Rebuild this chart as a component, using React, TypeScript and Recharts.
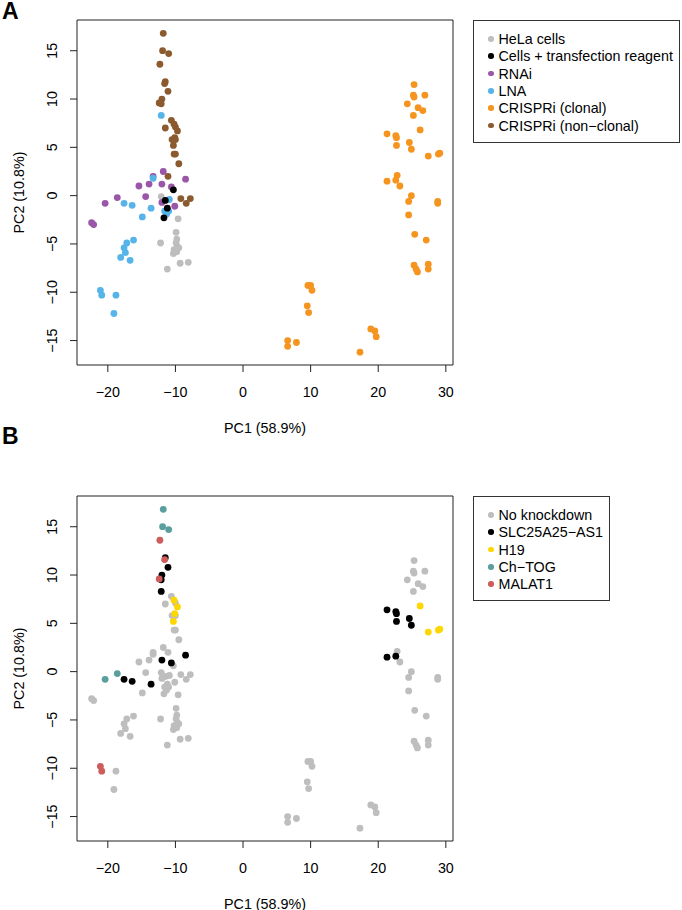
import React from 'react';
import { ScatterChart, Scatter, XAxis, YAxis, ReferenceArea } from 'recharts';

// PCA coordinates [PC1, PC2], grouped by treatment (panel A)
const helaCells = [
  [-12.1, -0.1], [-9.6, -2.4], [-9.9, -3.8], [-12.2, -4.9], [-9.8, -4.5], [-9.9, -4.9], [-9.7, -5.3],
  [-9.5, -5.4], [-10.2, -5.6], [-9.8, -5.8], [-10.3, -6.0], [-9.3, -7.0], [-8.1, -6.9], [-11.2, -7.6],
];
const transfection = [[-10.3, 0.6], [-11.5, -0.5], [-11.2, -1.3], [-11.7, -2.3]];
const rnai = [
  [-11.8, 2.5], [-13.3, 2.0], [-8.5, 1.7], [-12.0, 1.2], [-13.9, 1.2], [-15.4, 1.0], [-10.6, 0.9],
  [-14.4, -0.1], [-18.6, -0.2], [-20.4, -0.8], [-12.0, -0.7], [-10.1, -1.1], [-22.4, -2.8], [-22.1, -3.0],
];
const lna = [
  [-12.1, 8.3], [-13.3, 1.8], [-17.6, -0.8], [-16.4, -1.0], [-13.6, -1.3], [-14.9, -2.2], [-10.9, -0.4],
  [-11.6, -1.6], [-11.0, -1.6], [-11.3, -1.9], [-16.2, -4.6], [-17.2, -4.9], [-17.6, -5.4], [-17.4, -5.9],
  [-18.1, -6.4], [-16.7, -6.7], [-21.1, -9.8], [-20.9, -10.3], [-18.8, -10.3], [-19.1, -12.2],
];
const crispriClonal = [
  [25.3, 11.5], [25.2, 10.4], [25.3, 10.2], [26.9, 10.4], [24.3, 9.5], [25.9, 9.1], [26.6, 8.8], [25.2, 8.3],
  [26.2, 6.8], [21.3, 6.4], [22.6, 6.2], [22.7, 6.0], [24.6, 5.5], [22.7, 5.2], [24.9, 4.8], [27.4, 4.1],
  [28.9, 4.3], [29.1, 4.4], [22.8, 2.1], [22.6, 1.6], [21.3, 1.5], [23.2, 1.0], [24.9, 0.0], [24.5, -0.6],
  [28.8, -0.6], [28.8, -0.8], [24.5, -2.0], [25.4, -4.0], [27.1, -4.6], [25.3, -7.2], [25.6, -7.6],
  [25.8, -7.9], [27.4, -7.1], [27.4, -7.6], [9.6, -9.3], [10.0, -9.3], [10.2, -9.8], [9.5, -11.4],
  [9.7, -12.1], [6.6, -15.0], [6.6, -15.6], [7.9, -15.2], [18.9, -13.8], [19.5, -14.0], [19.7, -14.6],
  [17.3, -16.2],
];
const crispriNonClonal = [
  [-11.8, 16.8], [-11.9, 15.0], [-11.0, 14.7], [-12.3, 13.6], [-11.5, 11.8], [-11.6, 11.6], [-11.1, 10.8],
  [-12.0, 10.0], [-12.4, 9.6], [-12.1, 9.5], [-10.6, 7.8], [-11.5, 7.0], [-10.2, 7.4], [-10.0, 7.1],
  [-9.7, 6.7], [-10.5, 5.8], [-10.1, 6.0], [-10.0, 5.8], [-10.3, 5.2], [-10.2, 4.3], [-10.0, 4.3],
  [-9.5, 3.3], [-11.1, 2.0], [-9.2, -0.3], [-7.8, -0.3], [-8.4, -0.8],
];

// same samples, grouped by knocked-down target (panel B)
const noKnockdown = [
  [-12.1, -0.1], [-9.6, -2.4], [-9.9, -3.8], [-12.2, -4.9], [-9.8, -4.5], [-9.9, -4.9], [-9.7, -5.3],
  [-9.5, -5.4], [-10.2, -5.6], [-9.8, -5.8], [-10.3, -6.0], [-9.3, -7.0], [-8.1, -6.9], [-11.2, -7.6],
  [-10.3, 0.6], [-11.5, -0.5], [-11.2, -1.3], [-11.7, -2.3],
  [-10.6, 7.8], [-11.5, 7.0], [-10.0, 7.1], [-10.5, 5.8], [-10.0, 5.8], [-10.2, 4.3], [-10.0, 4.3],
  [-9.5, 3.3], [-11.1, 2.0], [-9.2, -0.3], [-7.8, -0.3], [-8.4, -0.8],
  [-11.8, 2.5], [-13.3, 2.0], [-13.9, 1.2], [-15.4, 1.0], [-14.4, -0.1], [-12.0, -0.7], [-10.1, -1.1],
  [-22.4, -2.8], [-22.1, -3.0],
  [-13.3, 1.8], [-14.9, -2.2], [-10.9, -0.4], [-11.6, -1.6], [-11.0, -1.6], [-11.3, -1.9], [-16.2, -4.6],
  [-17.2, -4.9], [-17.6, -5.4], [-17.4, -5.9], [-18.1, -6.4], [-16.7, -6.7], [-18.8, -10.3], [-19.1, -12.2],
  [25.3, 11.5], [25.2, 10.4], [25.3, 10.2], [26.9, 10.4], [24.3, 9.5], [25.9, 9.1], [26.6, 8.8], [25.2, 8.3],
  [22.8, 2.1], [23.2, 1.0], [24.9, 0.0], [24.5, -0.6], [28.8, -0.6], [28.8, -0.8], [24.5, -2.0], [25.4, -4.0],
  [27.1, -4.6], [25.3, -7.2], [25.6, -7.6], [25.8, -7.9], [27.4, -7.1], [27.4, -7.6], [9.6, -9.3],
  [10.0, -9.3], [10.2, -9.8], [9.5, -11.4], [9.7, -12.1], [6.6, -15.0], [6.6, -15.6], [7.9, -15.2],
  [18.9, -13.8], [19.5, -14.0], [19.7, -14.6], [17.3, -16.2],
];
const slc25a25 = [
  [-11.5, 11.8], [-11.1, 10.8], [-12.0, 10.0], [-12.1, 9.5], [-12.1, 8.3], [-8.5, 1.7], [-12.0, 1.2],
  [-10.6, 0.9], [-17.6, -0.8], [-16.4, -1.0], [-13.6, -1.3], [21.3, 6.4], [22.6, 6.2], [22.7, 6.0],
  [24.6, 5.5], [22.7, 5.2], [24.9, 4.8], [22.6, 1.6], [21.3, 1.5],
];
const h19 = [[-10.2, 7.4], [-9.7, 6.7], [-10.1, 6.0], [-10.3, 5.2], [26.2, 6.8], [27.4, 4.1], [28.9, 4.3], [29.1, 4.4]];
const chTog = [[-11.8, 16.8], [-11.9, 15.0], [-11.0, 14.7], [-18.6, -0.2], [-20.4, -0.8]];
const malat1 = [[-12.3, 13.6], [-11.6, 11.6], [-12.4, 9.6], [-21.1, -9.8], [-20.9, -10.3]];

const xTicks = [-20, -10, 0, 10, 20, 30];
const yTicks = [-15, -10, -5, 0, 5, 10, 15];
const xDomain = [-24.56, 31.06];
const yDomain = [-17.53, 18.18];

const FONT = '"Liberation Sans", Arial, Helvetica, sans-serif';
const FS = 14.3;

const seriesA = [
  { name: 'HeLa cells', data: helaCells, color: '#bebebe' },
  { name: 'Cells + transfection reagent', data: transfection, color: '#000000' },
  { name: 'RNAi', data: rnai, color: '#9a56a8' },
  { name: 'LNA', data: lna, color: '#56b4e9' },
  { name: 'CRISPRi (clonal)', data: crispriClonal, color: '#f5951f' },
  { name: 'CRISPRi (non\u2212clonal)', data: crispriNonClonal, color: '#8b5a2f' },
];
const drawOrderA = [0, 2, 3, 4, 5, 1];

const seriesB = [
  { name: 'No knockdown', data: noKnockdown, color: '#bebebe' },
  { name: 'SLC25A25\u2212AS1', data: slc25a25, color: '#000000' },
  { name: 'H19', data: h19, color: '#ffd700' },
  { name: 'Ch\u2212TOG', data: chTog, color: '#5a9e9e' },
  { name: 'MALAT1', data: malat1, color: '#cd5c5c' },
];
const drawOrderB = [0, 1, 2, 3, 4];

const fmt = (v: number) => (v < 0 ? '\u2212' + Math.abs(v) : String(v));

const XTick = (props: any) => {
  const { x, y, payload } = props;
  return (
    <text x={x} y={y + 22.5} textAnchor="middle" fontSize={FS} fontFamily={FONT} fill="#000">
      {fmt(payload.value)}
    </text>
  );
};

const YTick = (props: any) => {
  const { x, y, payload } = props;
  const tx = x - 10.5;
  return (
    <text x={tx} y={y} transform={`rotate(-90 ${tx} ${y})`} textAnchor="middle" fontSize={FS} fontFamily={FONT} fill="#000">
      {fmt(payload.value)}
    </text>
  );
};

const makeDot = (color: string) => (p: any) => <circle cx={p.cx} cy={p.cy} r={3.4} fill={color} />;

const Legend = ({ items, top, width }: { items: { name: string; color: string }[]; top: number; width: number }) => (
  <div
    style={{
      position: 'absolute',
      left: 473,
      top,
      width,
      height: 19 + (items.length - 1) * 17.3 + 17,
      border: '1px solid #333',
      boxSizing: 'border-box',
      fontFamily: FONT,
      fontSize: FS,
    }}
  >
    {items.map((it, i) => (
      <div key={it.name} style={{ position: 'absolute', left: 0, top: 18 + i * 17.3 - 9, height: 18, lineHeight: '18px', whiteSpace: 'nowrap' }}>
        <span
          style={{
            position: 'absolute',
            left: 14,
            top: 6.2,
            width: 5.6,
            height: 5.6,
            borderRadius: '50%',
            background: it.color,
          }}
        />
        <span style={{ position: 'absolute', left: 24.5, top: 0 }}>{it.name}</span>
      </div>
    ))}
  </div>
);

const Panel = ({ series, order, top }: { series: any[]; order: number[]; top: number }) => (
  <div style={{ position: 'absolute', left: 0, top }}>
    <ScatterChart width={682} height={475} margin={{ top: 20, right: 229, bottom: 0, left: 0 }}>
      <XAxis
        type="number"
        dataKey="x"
        domain={xDomain}
        ticks={xTicks}
        allowDataOverflow
        height={110}
        axisLine={false}
        tickSize={7}
        tickLine={{ stroke: '#222' }}
        tick={<XTick />}
        label={(p: any) => {
          const vb = p.viewBox;
          return (
            <text x={vb.x + vb.width / 2} y={vb.y + 67.5} textAnchor="middle" fontSize={FS} fontFamily={FONT} fill="#000">
              PC1 (58.9%)
            </text>
          );
        }}
      />
      <YAxis
        type="number"
        dataKey="y"
        domain={yDomain}
        ticks={yTicks}
        allowDataOverflow
        width={77}
        axisLine={false}
        tickSize={7}
        tickLine={{ stroke: '#222' }}
        tick={<YTick />}
        label={(p: any) => {
          const vb = p.viewBox;
          const cy = vb.y + vb.height / 2;
          return (
            <text x={24} y={cy} transform={`rotate(-90 24 ${cy})`} textAnchor="middle" fontSize={FS} fontFamily={FONT} fill="#000">
              PC2 (10.8%)
            </text>
          );
        }}
      />
      <ReferenceArea
        x1={xDomain[0]}
        x2={xDomain[1]}
        y1={yDomain[0]}
        y2={yDomain[1]}
        fill="none"
        fillOpacity={0}
        stroke="#222"
        strokeWidth={1}
        ifOverflow="visible"
      />
      {order.map((i) => {
        const s = series[i];
        return (
          <Scatter
            key={s.name}
            name={s.name}
            data={s.data.map(([x, y]: number[]) => ({ x, y }))}
            fill={s.color}
            shape={makeDot(s.color)}
            isAnimationActive={false}
          />
        );
      })}
    </ScatterChart>
  </div>
);

export default function App() {
  return (
    <div style={{ position: 'absolute', left: 0, top: 0, width: 682, height: 910, background: '#fff', fontFamily: FONT }}>
      <Panel series={seriesA} order={drawOrderA} top={0} />
      <Panel series={seriesB} order={drawOrderB} top={476} />
      <Legend items={seriesA} top={20} width={207} />
      <Legend items={seriesB} top={496} width={137} />
      <div style={{ position: 'absolute', left: 2, top: 0, fontSize: 23, lineHeight: '23px', fontWeight: 'bold', fontFamily: FONT }}>A</div>
      <div style={{ position: 'absolute', left: 2, top: 425, fontSize: 23, lineHeight: '23px', fontWeight: 'bold', fontFamily: FONT }}>B</div>
    </div>
  );
}
